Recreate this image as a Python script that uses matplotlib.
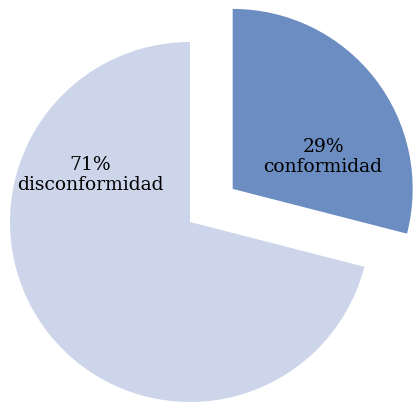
import matplotlib
matplotlib.use("Agg")
import matplotlib.pyplot as plt

labels = ["conformidad", "disconformidad"]
shares = [29, 71]
colors = ["#6C8DC2", "#CCD5EA"]
explode = [0.3, 0]

fig = plt.figure(figsize=(4.13, 4.03), dpi=100)
ax = fig.add_axes([0, 0, 1, 1])
ax.pie(shares, colors=colors, explode=explode, startangle=90,
       counterclock=False, radius=1.0)
ax.set_xlim(-190 / 180, 223 / 180)
ax.set_ylim(-181 / 180, 222 / 180)
ax.set_aspect("equal")
ax.axis("off")

font = dict(family="DejaVu Serif", fontsize=13.5, ha="center", va="center",
            color="#000000", linespacing=1.15)
# text positions
ax.text(0.739, 0.36, f"{shares[0]}%\n{labels[0]}", **font)
ax.text(-0.556, 0.26, f"{shares[1]}%\n{labels[1]}", **font)

fig.savefig("out.png", dpi=100)
